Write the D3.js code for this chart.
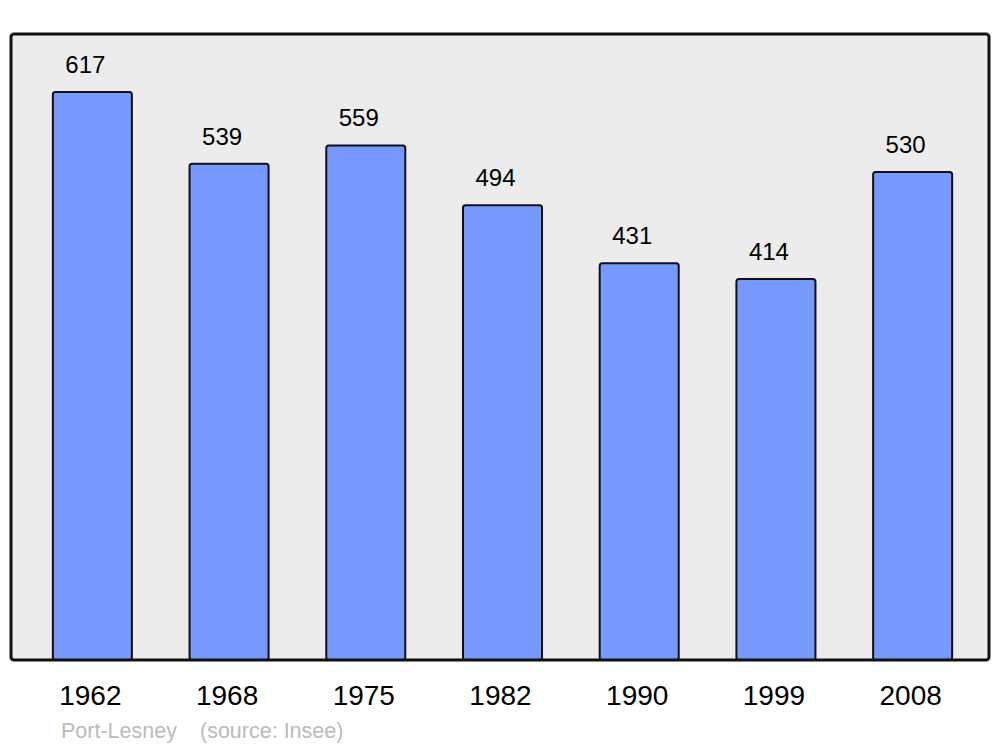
<!DOCTYPE html>
<html><head><meta charset="utf-8">
<script src="https://cdn.jsdelivr.net/npm/d3@7"></script>
<style>body{margin:0;background:#fff}svg{display:block}</style>
</head><body>
<script>
const years = ["1962","1968","1975","1982","1990","1999","2008"];
const population = [617,539,559,494,431,414,530];
const caption = ["Port-Lesney", "(source: Insee)"];

const W = 1000, H = 747;
const svg = d3.select("body").append("svg").attr("width", W).attr("height", H);
const font = "Liberation Sans, Arial, sans-serif";

const panel = {x0: 11, y0: 34, x1: 989, y1: 660};
const x = d3.scaleBand().domain(years).range([24, 981]).paddingInner(0.422).paddingOuter(0.211);
const y = d3.scaleLinear().domain([0, 680]).range([panel.y1, panel.y0]);

svg.append("rect").attr("x", panel.x0).attr("y", panel.y0)
  .attr("width", panel.x1 - panel.x0).attr("height", panel.y1 - panel.y0)
  .attr("rx", 3).attr("fill", "#ececec");

const data = years.map((yr, i) => ({yr, v: population[i]}));

svg.selectAll("rect.bar").data(data).enter().append("rect").attr("class","bar")
  .attr("x", d => x(d.yr)).attr("y", d => y(d.v))
  .attr("width", x.bandwidth()).attr("height", d => y(0) - y(d.v))
  .attr("rx", 2.5).attr("fill", "#7799ff").attr("stroke", "#111").attr("stroke-width", 2);

svg.append("rect").attr("x", panel.x0).attr("y", panel.y0)
  .attr("width", panel.x1 - panel.x0).attr("height", panel.y1 - panel.y0)
  .attr("rx", 3).attr("fill", "none").attr("stroke", "#111").attr("stroke-width", 3);

svg.selectAll("text.val").data(data).enter().append("text").attr("class","val")
  .attr("x", d => x(d.yr) + x.bandwidth()/2 - 7).attr("y", d => y(d.v) - 19)
  .attr("text-anchor", "middle").attr("font-family", font).attr("font-size", 24)
  .attr("fill", "#000").text(d => d.v);

const xAxis = d3.axisBottom(x).tickSize(0).tickPadding(0);
const ax = svg.append("g").attr("transform", `translate(-2,${panel.y1})`).call(xAxis);
ax.select(".domain").remove();
ax.selectAll("text").attr("font-family", font).attr("font-size", 28).attr("fill", "#000")
  .attr("dy", null).attr("y", 45);

svg.append("text").attr("x", 61).attr("y", 738).attr("font-family", font)
  .attr("font-size", 21.5).attr("fill", "#bbbbbb").text(caption[0]);
svg.append("text").attr("x", 200).attr("y", 738).attr("font-family", font)
  .attr("font-size", 21.5).attr("fill", "#bbbbbb").text(caption[1]);
</script>
</body></html>
